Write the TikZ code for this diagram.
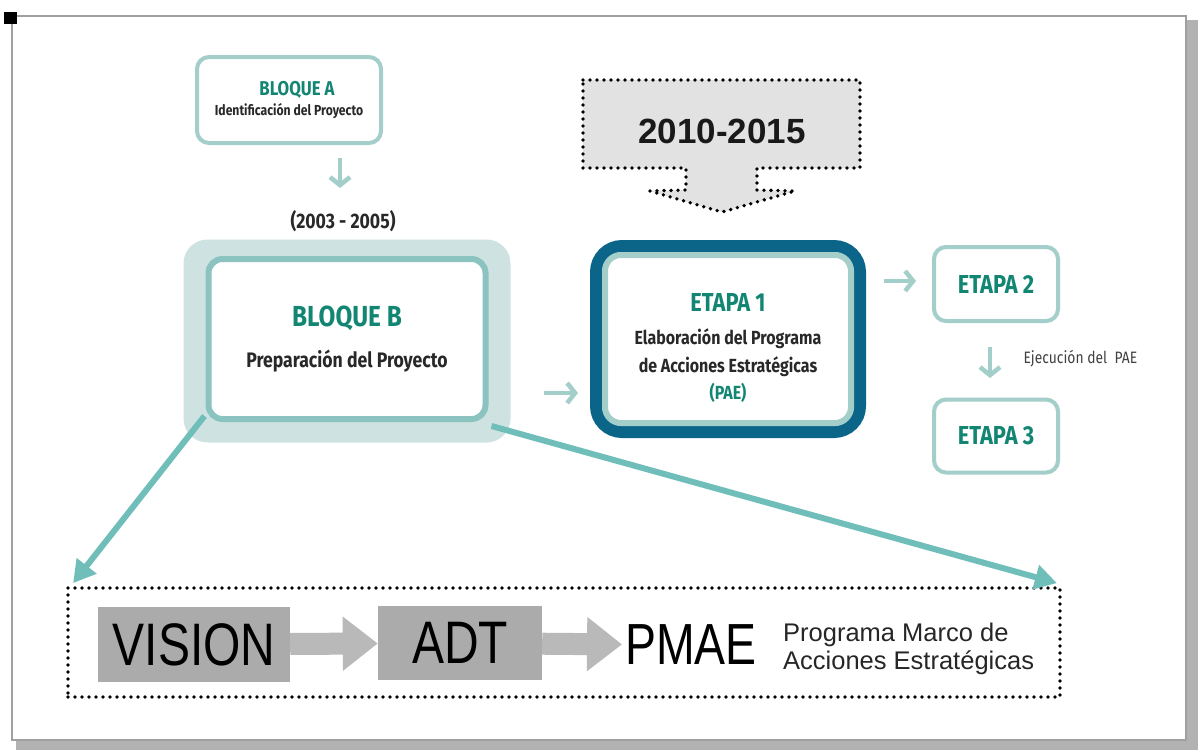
\documentclass[tikz,border=0pt]{standalone}
\usepackage{fontspec}
\setmainfont{Fira Sans}
\newfontfamily\condfont{Fira Sans}[FakeStretch=0.84]
\newfontfamily\plainfont{Liberation Sans}
\newfontfamily\narrowfont{Liberation Sans}[FakeStretch=0.8]
\usetikzlibrary{arrows.meta,positioning}
\definecolor{tealtext}{RGB}{18,134,114}
\definecolor{tealline}{RGB}{163,206,201}
\definecolor{tealmid}{RGB}{138,195,191}
\definecolor{tealhalo}{RGB}{206,227,225}
\definecolor{tealarrow}{RGB}{112,190,186}
\definecolor{petrol}{RGB}{10,101,136}
\definecolor{darktext}{RGB}{40,40,40}
\definecolor{boxgray}{RGB}{171,171,171}
\definecolor{arrowgray}{RGB}{185,185,185}
\definecolor{callgray}{RGB}{226,226,226}
\definecolor{framegray}{RGB}{160,160,160}
\definecolor{shadowgray}{RGB}{178,178,178}

\begin{document}
\begin{tikzpicture}[x=1pt,y=-1pt
  ,font=\condfont\bfseries
  ,text=darktext
  ,blockbox/.style={draw=tealline,line width=4pt,rounded corners=12pt
    ,fill=white,align=center,inner sep=0pt}
  ,smallarrow/.style={draw=tealline,line width=4.5pt
    ,-{Straight Barb[length=8pt,width=20pt]}}
  ,bigarrow/.style={draw=tealarrow,line width=6pt
    ,-{Triangle[length=22pt,width=24pt]}}
  ,grayarrow/.style={draw=arrowgray,line width=22pt
    ,-{Triangle[length=35pt,width=52pt]}}
  ,dotline/.style={draw=black,line width=3.8pt
    ,dash pattern=on 0pt off 7pt,line cap=round}
  ,graybox/.style={fill=boxgray,inner sep=0pt
    ,font=\narrowfont\fontsize{60}{60}\selectfont,text=black}
  ]
  \useasboundingbox (0,0) rectangle (1198,750);

  % frame of the page
  \fill[shadowgray] (16,20) rectangle (1198,750);
  \fill[white] (12,16) rectangle (1186,740);
  \draw[framegray,line width=2pt] (12,16) rectangle (1186,740);
  \fill[black] (4,12) rectangle (17,24);

  % block A
  \node[blockbox,minimum width=184pt,minimum height=86pt] (bloqueA) at (289,100)
    {{\color{tealtext}\fontsize{20}{22}\selectfont\hspace*{16pt}BLOQUE A}\\[4pt]
     {\fontsize{14.5}{16}\selectfont Identificación del Proyecto}};
  \coordinate (aTop) at (340,158);
  \coordinate (aEnd) at (340,188);
  \draw[smallarrow] (aTop) -- (aEnd);
  \node[font=\condfont\bfseries\fontsize{21}{23}\selectfont] (periodo) at (343,221)
    {(2003 - 2005)};

  % block B
  \node[fill=tealhalo,rounded corners=24pt,minimum width=327pt
    ,minimum height=203pt] (bloqueBhalo) at (347,341) {};
  \node[blockbox,draw=tealmid,line width=6pt,rounded corners=14pt
    ,minimum width=277pt,minimum height=160pt] (bloqueB) at (347,339)
    {{\color{tealtext}\fontsize{29}{32}\selectfont BLOQUE B}\\[18pt]
     {\fontsize{21}{24}\selectfont Preparación del Proyecto}};
  \coordinate (bOut) at (544,393);
  \coordinate (bIn) at (578,393);
  \draw[smallarrow] (bOut) -- (bIn);

  % callout 2010-2015
  \filldraw[dotline,fill=callgray] (583,80) -- (860,80) -- (860,168)
    -- (757,168) -- (757,190) -- (795,191) -- (722,212) -- (650,191)
    -- (686,190) -- (686,168) -- (583,168) -- cycle;
  \node[font=\plainfont\bfseries\fontsize{35}{38}\selectfont,text=black!90]
    (horizonte) at (722,131) {2010-2015};

  % stage 1
  \node[draw=petrol,line width=12pt,rounded corners=26pt,fill=white
    ,minimum width=264pt,minimum height=186pt] (etapa1frame) at (728,339) {};
  \node[blockbox,rounded corners=16pt,line width=6pt
    ,minimum width=246pt,minimum height=168pt] (etapa1) at (728,339)
    {{\rule{0pt}{36pt}\color{tealtext}\fontsize{26}{28}\selectfont ETAPA 1}\\[16pt]
     {\fontsize{19}{26}\selectfont Elaboración del Programa}\\[7pt]
     {\fontsize{19}{20}\selectfont de Acciones Estratégicas}\\[5pt]
     {\color{tealtext}\fontsize{19}{18}\selectfont (PAE)}};
  \coordinate (e1Out) at (884,281);
  \coordinate (e1In) at (916,281);
  \draw[smallarrow] (e1Out) -- (e1In);

  % stages 2 and 3
  \node[blockbox,minimum width=124pt,minimum height=74pt
    ,font=\condfont\bfseries\fontsize{26}{28}\selectfont,text=tealtext]
    (etapa2) at (996,284) {ETAPA 2};
  \node[blockbox,minimum width=124pt,minimum height=73pt
    ,font=\condfont\bfseries\fontsize{26}{28}\selectfont,text=tealtext]
    (etapa3) at (996,436) {ETAPA 3};
  \coordinate (e2Out) at (990,347);
  \coordinate (e3In) at (990,378);
  \draw[smallarrow] (e2Out) -- (e3In);
  \node[font=\condfont\fontsize{16.5}{18}\selectfont,text=black!75,anchor=west]
    (ejecucion) at (1020,359) {Ejecución del\ \ PAE};

  % framework below
  \node[dotline,minimum width=992pt,minimum height=109pt] (marco) at (564,642.5) {};
  \node[graybox,minimum width=192pt,minimum height=75pt] (vision) at (194,644.5) {VISION};
  \node[graybox,minimum width=164pt,minimum height=74pt] (adt) at (460,643) {ADT};
  \node[font=\narrowfont\fontsize{58}{60}\selectfont,text=black,inner sep=3pt]
    (pmae) at (691,645) {PMAE};
  \node[font=\plainfont\fontsize{25.5}{28}\selectfont,text=black!85,align=left
    ,anchor=west,inner sep=0pt] (pmaeText) at (783,649)
    {Programa Marco de\\Acciones Estratégicas};
  \draw[grayarrow] (vision) -- (adt);
  \draw[grayarrow] (adt) -- (pmae);

  \draw[bigarrow] ([shift={(-1,-6)}]bloqueB.south west) -- ([shift={(7,-3)}]marco.north west);
  \draw[bigarrow] ([shift={(3,4)}]bloqueB.south east) -- ([shift={(-5,-3)}]marco.north east);

\end{tikzpicture}
\end{document}
